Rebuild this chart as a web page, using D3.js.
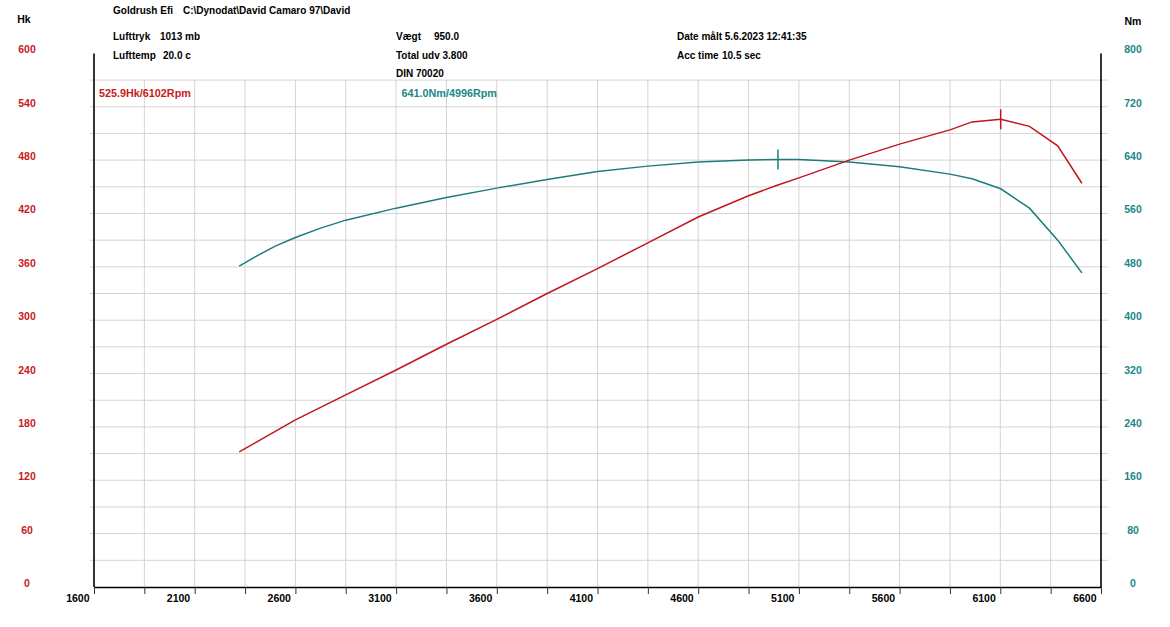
<!DOCTYPE html>
<html>
<head>
<meta charset="utf-8">
<script src="https://cdn.jsdelivr.net/npm/d3@7"></script>
<style>
  html, body { margin: 0; padding: 0; background: #ffffff; }
  svg { display: block; font-family: "Liberation Sans", Arial, sans-serif; font-weight: bold; }
</style>
</head>
<body>
<svg id="chart" width="1170" height="627"></svg>
<script>
// ---- data ----
const rpm    = [2321, 2400, 2500, 2600, 2725, 2850, 3100, 3350, 3600, 3850, 4100, 4350, 4600, 4850, 4996, 5100, 5350, 5600, 5850, 5960, 6102, 6245, 6385, 6505];
const power  = [152, 162, 175, 188, 202, 216, 244, 273, 301, 330, 358, 387, 416, 440, 452, 460, 480, 498, 514, 523, 525.9, 518, 496, 454];
const torque = [481, 495, 511, 524, 538, 550, 568, 584, 598, 611, 623, 631, 637, 640, 641, 641, 637, 630, 619, 612, 597, 568, 520, 471];

const rpmTicks = d3.range(1600, 6601, 250);
const rpmLabels = [1600, 2100, 2600, 3100, 3600, 4100, 4600, 5100, 5600, 6100, 6600];
const hkLabels = [0, 60, 120, 180, 240, 300, 360, 420, 480, 540, 600];
const nmLabels = [0, 80, 160, 240, 320, 400, 480, 560, 640, 720, 800];
const hkGrid = d3.range(30, 571, 30);

const peakPower  = { rpm: 6102, value: 525.9, label: "525.9Hk/6102Rpm" };
const peakTorque = { rpm: 4996, value: 641.0, label: "641.0Nm/4996Rpm" };

const headerLeft  = [["Goldrush Efi", "C:\\Dynodat\\David Camaro 97\\David"], ["Lufttryk", "1013 mb"], ["Lufttemp", "20.0 c"]];
const headerMid   = [["Vægt", "950.0"], ["Total udv 3.800", ""], ["DIN 70020", ""]];
const headerRight = [["Date målt 5.6.2023 12:41:35", ""], ["Acc time", "10.5 sec"]];

// ---- style ----
const RED = "#c0161e", RED_TXT = "#c81a1a";
const TEAL = "#1a7d7a", TEAL_TXT = "#1b8787";
const GRID = "#d4d4d4";

const svg = d3.select("#chart");

const x = d3.scaleLinear().domain([1600, 6600]).range([94, 1101]);
const yHk = d3.scaleLinear().domain([0, 600]).range([587, 53.4]);
const yNm = d3.scaleLinear().domain([0, 800]).range([587, 53.4]);

// ---- grid ----
const grid = svg.append("g");
grid.selectAll("line.h").data(hkGrid).join("line")
  .attr("x1", x(1600) - 4).attr("x2", x(6600) + 7)
  .attr("y1", d => yHk(d)).attr("y2", d => yHk(d))
  .attr("stroke", GRID).attr("stroke-width", 1);
grid.selectAll("line.v").data(rpmTicks.filter(d => d > 1600 && d < 6600)).join("line")
  .attr("x1", d => x(d)).attr("x2", d => x(d))
  .attr("y1", yHk(570)).attr("y2", yHk(0))
  .attr("stroke", GRID).attr("stroke-width", 1);

// ---- axes ----
const xAxis = d3.axisBottom(x)
  .tickValues(rpmTicks)
  .tickSizeInner(7).tickSizeOuter(0)
  .tickFormat(d => rpmLabels.includes(d) ? d : "");
const gx = svg.append("g").attr("transform", `translate(0,${yHk(0)})`).call(xAxis);
gx.select(".domain").attr("stroke", "#000").attr("stroke-width", 1.6);
gx.selectAll(".tick line").attr("stroke", "#333").attr("stroke-width", 1);
gx.selectAll(".tick text")
  .attr("text-anchor", "end").attr("x", -5).attr("y", 8).attr("dy", "0.71em")
  .attr("fill", "#000").style("font-size", "10.5px").style("font-weight", "bold")
  .style("font-family", "'Liberation Sans', Arial, sans-serif");

// left & right axis lines
svg.append("line").attr("x1", x(1600)).attr("x2", x(1600)).attr("y1", yHk(600)).attr("y2", yHk(0))
  .attr("stroke", "#000").attr("stroke-width", 1.6);
svg.append("line").attr("x1", x(6600)).attr("x2", x(6600)).attr("y1", yNm(800)).attr("y2", yNm(0))
  .attr("stroke", "#000").attr("stroke-width", 1.6);

// axis labels
svg.append("g").selectAll("text").data(hkLabels).join("text")
  .attr("x", 27).attr("y", d => yHk(d)).attr("text-anchor", "middle")
  .attr("fill", RED_TXT).style("font-size", "10.5px").text(d => d);
svg.append("g").selectAll("text").data(nmLabels).join("text")
  .attr("x", 1133).attr("y", d => yNm(d)).attr("text-anchor", "middle")
  .attr("fill", TEAL_TXT).style("font-size", "10.5px").text(d => d);

svg.append("text").attr("x", 24).attr("y", 22.5).attr("text-anchor", "middle")
  .attr("fill", "#000").style("font-size", "10.5px").text("Hk");
svg.append("text").attr("x", 1133).attr("y", 25).attr("text-anchor", "middle")
  .attr("fill", "#000").style("font-size", "10.5px").text("Nm");

// ---- header ----
function header(rows, x0, x1, ys) {
  rows.forEach((r, i) => {
    svg.append("text").attr("x", x0).attr("y", ys[i]).attr("fill", "#000")
      .style("font-size", "10px").text(r[0]);
    if (r[1]) svg.append("text").attr("x", x1[i]).attr("y", ys[i]).attr("fill", "#000")
      .style("font-size", "10px").text(r[1]);
  });
}
header(headerLeft, 113, [183, 160, 163], [13.5, 39.5, 59.3]);
header(headerMid, 396, [434, 0, 0], [40, 59.3, 76.7]);
header(headerRight, 677, [0, 722], [40, 59.3]);

// ---- curves ----
const powerPts = rpm.map((r, i) => [r, power[i]]);
const torquePts = rpm.map((r, i) => [r, torque[i]]);

svg.append("path").datum(torquePts)
  .attr("fill", "none").attr("stroke", TEAL).attr("stroke-width", 1.5)
  .attr("d", d3.line().x(d => x(d[0])).y(d => yNm(d[1])));
svg.append("path").datum(powerPts)
  .attr("fill", "none").attr("stroke", RED).attr("stroke-width", 1.5)
  .attr("d", d3.line().x(d => x(d[0])).y(d => yHk(d[1])));

// peak markers
svg.append("line")
  .attr("x1", x(peakPower.rpm)).attr("x2", x(peakPower.rpm))
  .attr("y1", yHk(peakPower.value) - 10).attr("y2", yHk(peakPower.value) + 10)
  .attr("stroke", RED).attr("stroke-width", 1.5);
svg.append("line")
  .attr("x1", x(peakTorque.rpm)).attr("x2", x(peakTorque.rpm))
  .attr("y1", yNm(peakTorque.value) - 10).attr("y2", yNm(peakTorque.value) + 10)
  .attr("stroke", TEAL).attr("stroke-width", 1.5);

// peak labels
svg.append("text").attr("x", 99).attr("y", 96.7).attr("fill", RED_TXT)
  .style("font-size", "10.8px").text(peakPower.label);
svg.append("text").attr("x", 401.5).attr("y", 96.7).attr("fill", TEAL_TXT)
  .style("font-size", "10.8px").text(peakTorque.label);
</script>
</body>
</html>
